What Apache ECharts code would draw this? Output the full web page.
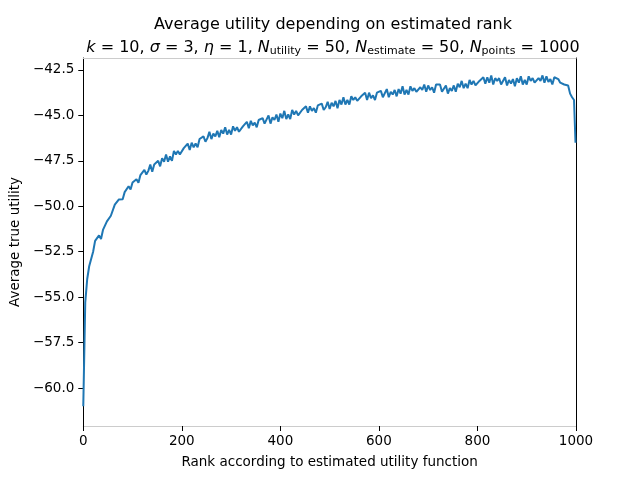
<!DOCTYPE html>
<html>
<head>
<meta charset="utf-8">
<script src="https://cdn.jsdelivr.net/npm/echarts@6/dist/echarts.min.js"></script>
<style>html,body{margin:0;padding:0;background:#fff}#c{width:640px;height:480px}</style>
</head>
<body>
<div id="c"></div>
<script>
// Average true utility, one value every 4 ranks (0..996), then rank 999
const utility = [
-61.0,-55.3,-54.0,-53.3,-53.2,-52.5,-51.9,-51.8,-51.6,-51.8,
-51.3,-51.27,-50.83,-50.94,-50.52,-50.47,-49.91,-49.88,-49.63,-49.65,
-49.61,-49.22,-49.24,-48.9,-49.07,-48.69,-48.78,-48.51,-48.7,-48.28,
-48.25,-48.0,-48.25,-48.05,-47.7,-48.1,-47.7,-47.8,-47.5,-47.8,
-47.35,-47.55,-47.15,-47.55,-47.25,-47.5,-46.95,-47.15,-46.95,-47.15,
-47.15,-46.8,-46.9,-46.55,-46.9,-46.5,-46.75,-46.55,-46.75,-46.3,
-46.35,-46.15,-46.45,-46.25,-45.9,-46.3,-46.0,-46.15,-45.85,-46.2,
-45.8,-46.0,-45.65,-46.05,-45.8,-46.05,-45.6,-45.85,-45.65,-45.9,
-45.95,-45.6,-45.7,-45.35,-45.7,-45.3,-45.55,-45.4,-45.65,-45.25,
-45.3,-45.15,-45.45,-45.35,-45.0,-45.45,-45.1,-45.25,-44.95,-45.35,
-44.9,-45.15,-44.75,-45.2,-44.95,-45.2,-44.7,-44.95,-44.75,-45.0,
-45.0,-44.7,-44.8,-44.5,-44.85,-44.5,-44.75,-44.6,-44.85,-44.45,
-44.55,-44.35,-44.7,-44.55,-44.25,-44.65,-44.3,-44.5,-44.2,-44.6,
-44.15,-44.4,-44.0,-44.4,-44.15,-44.4,-43.95,-44.15,-44.0,-44.2,
-44.25,-43.95,-44.05,-43.75,-44.15,-43.75,-44.05,-43.9,-44.15,-43.75,
-43.85,-43.65,-44.0,-43.9,-43.55,-44.0,-43.7,-43.85,-43.6,-43.95,
-43.55,-43.8,-43.4,-43.85,-43.6,-43.85,-43.4,-43.65,-43.5,-43.7,
-43.75,-43.45,-43.6,-43.3,-43.7,-43.35,-43.6,-43.45,-43.75,-43.3,
-43.4,-43.3,-43.7,-43.65,-43.35,-43.8,-43.5,-43.65,-43.35,-43.7,
-43.25,-43.45,-43.1,-43.5,-43.25,-43.5,-43.05,-43.3,-43.1,-43.35,
-43.4,-43.1,-43.2,-42.9,-43.25,-42.9,-43.2,-42.8,-43.3,-42.95,
-43.1,-42.95,-43.3,-43.2,-42.9,-43.35,-43.05,-43.25,-43.0,-43.4,
-42.95,-43.2,-42.85,-43.3,-43.05,-43.3,-42.85,-43.1,-42.95,-43.2,
-43.25,-42.95,-43.1,-42.8,-43.2,-42.85,-43.15,-43.0,-43.3,-42.9,
-42.85,-43.0,-43.2,-43.25,-43.3,-43.25,-43.35,-43.8,-44.0,-44.15,
-46.5
];
const rankStep = 4;
const lastRank = 999;
const ranks = utility.map((v, i) => (i === utility.length - 1 ? lastRank : i * rankStep));
const xTicks = [0, 200, 400, 600, 800, 1000];
const yTicks = [-60, -57.5, -55, -52.5, -50, -47.5, -45, -42.5];

const seriesData = ranks.map((r, i) => [r, utility[i]]);
const fmtY = v => (v < 0 ? '\u2212' : '') + Math.abs(v).toFixed(1);
const FONT = 'DejaVu Sans';

const chart = echarts.init(document.getElementById('c'), null, {renderer: 'canvas'});
chart.setOption({
  animation: false,
  backgroundColor: '#ffffff',
  title: [
    {
      text: 'Average utility depending on estimated rank',
      left: 328, top: 12, textAlign: 'center',
      textStyle: {fontFamily: FONT, fontSize: 16, fontWeight: 'normal', color: '#000'}
    },
    {
      text: '{i|k} = 10, {i|σ} = 3, {i|η} = 1, {i|N}{s|utility} = 50, {i|N}{s|estimate} = 50, {i|N}{s|points} = 1000',
      left: 328, top: 33, textAlign: 'center',
      textStyle: {
        fontFamily: FONT, fontSize: 16, fontWeight: 'normal', color: '#000',
        rich: {
          i: {fontFamily: FONT, fontSize: 16, fontStyle: 'italic', color: '#000'},
          s: {fontFamily: FONT, fontSize: 11, color: '#000', padding: [8, 0, 0, 0], verticalAlign: 'top'}
        }
      }
    }
  ],
  grid: {left: 80, right: 64, top: 58, bottom: 54, containLabel: false},
  xAxis: [
    {
      type: 'value', min: 0, max: 1000, interval: 200, position: 'bottom',
      name: 'Rank according to estimated utility function',
      nameLocation: 'middle', nameGap: 29,
      nameTextStyle: {fontFamily: FONT, fontSize: 13.5, color: '#000'},
      axisLine: {show: true, lineStyle: {color: '#cccccc', width: 1}},
      axisTick: {show: true, length: 5, inside: false, lineStyle: {color: '#000', width: 1}},
      axisLabel: {show: true, margin: 8, fontFamily: FONT, fontSize: 13.5, color: '#000',
        formatter: v => (xTicks.indexOf(v) >= 0 ? String(v) : '')},
      splitLine: {show: false}
    },
    {
      type: 'value', min: 0, max: 1000, position: 'top',
      axisLine: {show: true, lineStyle: {color: '#cccccc', width: 1}},
      axisTick: {show: false}, axisLabel: {show: false}, splitLine: {show: false}
    }
  ],
  yAxis: [
    {
      type: 'value', min: -62.09, max: -41.84, position: 'left',
      name: 'Average true utility', nameLocation: 'middle', nameGap: 58,
      nameTextStyle: {fontFamily: FONT, fontSize: 13.5, color: '#000'},
      axisLine: {show: true, onZero: false, lineStyle: {color: '#000', width: 1}},
      axisTick: {show: true, length: 5, customValues: yTicks, lineStyle: {color: '#000', width: 1}},
      axisLabel: {show: true, margin: 9, fontFamily: FONT, fontSize: 13.5, color: '#000',
        customValues: yTicks, formatter: v => fmtY(v)},
      splitLine: {show: false}
    },
    {
      type: 'value', min: -62.09, max: -41.84, position: 'right',
      axisLine: {show: true, onZero: false, lineStyle: {color: '#000', width: 1}},
      axisTick: {show: false}, axisLabel: {show: false}, splitLine: {show: false}
    }
  ],
  series: [{
    type: 'line',
    data: seriesData,
    xAxisIndex: 0, yAxisIndex: 0,
    showSymbol: false, symbol: 'none',
    lineStyle: {color: '#1f77b4', width: 2},
    itemStyle: {color: '#1f77b4'},
    z: 1
  }]
});
</script>
</body>
</html>
